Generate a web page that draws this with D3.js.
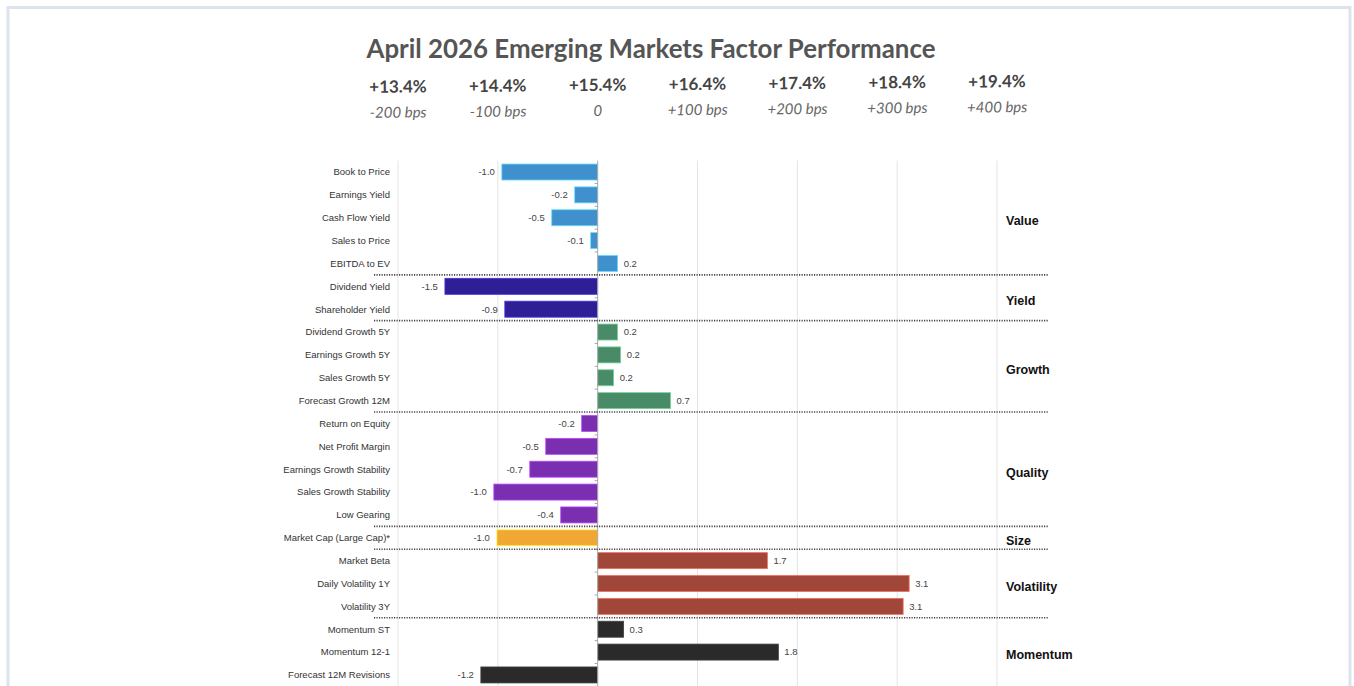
<!DOCTYPE html>
<html>
<head>
<meta charset="utf-8">
<script src="https://cdn.jsdelivr.net/npm/d3@7"></script>
<style>
  body { margin: 0; background: #fff; }
  svg { display: block; }
</style>
</head>
<body>
<svg id="chart"></svg>
<script>
// factor rows, top to bottom
const factors = [
  "Book to Price", "Earnings Yield", "Cash Flow Yield", "Sales to Price", "EBITDA to EV",
  "Dividend Yield", "Shareholder Yield",
  "Dividend Growth 5Y", "Earnings Growth 5Y", "Sales Growth 5Y", "Forecast Growth 12M",
  "Return on Equity", "Net Profit Margin", "Earnings Growth Stability", "Sales Growth Stability", "Low Gearing",
  "Market Cap (Large Cap)*",
  "Market Beta", "Daily Volatility 1Y", "Volatility 3Y",
  "Momentum ST", "Momentum 12-1", "Forecast 12M Revisions"
];
const values = [
  -0.96, -0.23, -0.46, -0.07, 0.20,
  -1.53, -0.93,
  0.20, 0.23, 0.16, 0.73,
  -0.16, -0.52, -0.68, -1.04, -0.37,
  -1.01,
  1.70, 3.12, 3.06,
  0.26, 1.81, -1.17
];
const factorGroup = [
  "Value", "Value", "Value", "Value", "Value",
  "Yield", "Yield",
  "Growth", "Growth", "Growth", "Growth",
  "Quality", "Quality", "Quality", "Quality", "Quality",
  "Size",
  "Volatility", "Volatility", "Volatility",
  "Momentum", "Momentum", "Momentum"
];
const groups = ["Value", "Yield", "Growth", "Quality", "Size", "Volatility", "Momentum"];
const groupColors = ["#3f90cd", "#2e1f97", "#4a8b67", "#7a2fb0", "#f0a733", "#a0473a", "#2a2a2a"];

// header ticks
const tickValues = [-2, -1, 0, 1, 2, 3, 4];
const returnLabels = ["+13.4%", "+14.4%", "+15.4%", "+16.4%", "+17.4%", "+18.4%", "+19.4%"];
const bpsLabels = ["-200 bps", "-100 bps", "0", "+100 bps", "+200 bps", "+300 bps", "+400 bps"];

const title = "April 2026 Emerging Markets Factor Performance";

const width = 1354, height = 686;
const svg = d3.select("#chart").attr("width", width).attr("height", height);

// frame
svg.append("rect")
  .attr("x", 8).attr("y", 7.5)
  .attr("width", 1342).attr("height", 720)
  .attr("fill", "#fff")
  .attr("stroke", "#dde3ec")
  .attr("stroke-width", 3);

const x = d3.scaleLinear().domain([-2, 4]).range([398, 997]);
const y = d3.scaleBand().domain(factors).range([160.6, 160.6 + factors.length * 22.86]).paddingInner(0.3).paddingOuter(0.15);
const color = d3.scaleOrdinal().domain(groups).range(groupColors);

// title
svg.append("text")
  .attr("x", 651).attr("y", 58)
  .attr("text-anchor", "middle")
  .attr("font-family", "Lato, 'Open Sans', sans-serif")
  .attr("font-weight", "bold")
  .attr("font-size", 26)
  .attr("fill", "#555")
  .attr("textLength", 569)
  .attr("lengthAdjust", "spacingAndGlyphs")
  .text(title);

// header rows
const header = svg.append("g").attr("transform", "rotate(-0.5, 697, 90)");
header.selectAll(".ret")
  .data(tickValues)
  .join("text")
  .attr("class", "ret")
  .attr("x", d => x(d))
  .attr("y", 90)
  .attr("text-anchor", "middle")
  .attr("font-family", "Lato, 'Open Sans', sans-serif")
  .attr("font-weight", "bold")
  .attr("font-size", 17)
  .attr("fill", "#444")
  .text((d, i) => returnLabels[i]);

header.selectAll(".bps")
  .data(tickValues)
  .join("text")
  .attr("class", "bps")
  .attr("x", d => x(d))
  .attr("y", 115)
  .attr("text-anchor", "middle")
  .attr("font-family", "Lato, 'Open Sans', sans-serif")
  .attr("font-style", "italic")
  .attr("font-size", 15)
  .attr("fill", "#666")
  .text((d, i) => bpsLabels[i]);

// gridlines
const plotTop = y.range()[0];
svg.append("g")
  .selectAll("line")
  .data(tickValues.filter(d => d !== 0))
  .join("line")
  .attr("x1", d => x(d)).attr("x2", d => x(d))
  .attr("y1", plotTop).attr("y2", height)
  .attr("stroke", "#e4e4e4")
  .attr("stroke-width", 1);

// category labels
svg.append("g")
  .selectAll("text")
  .data(factors)
  .join("text")
  .attr("x", 390)
  .attr("y", d => y(d) + y.bandwidth() / 2)
  .attr("dy", "0.35em")
  .attr("text-anchor", "end")
  .attr("font-family", "'Liberation Sans', Arial, sans-serif")
  .attr("font-size", 9.5)
  .attr("fill", "#333")
  .text(d => d);

// bars
svg.append("g")
  .selectAll("rect")
  .data(factors)
  .join("rect")
  .attr("x", (d, i) => x(Math.min(0, values[i])))
  .attr("y", d => y(d))
  .attr("width", (d, i) => Math.abs(x(values[i]) - x(0)))
  .attr("height", y.bandwidth())
  .attr("fill", (d, i) => color(factorGroup[i]))
  .attr("stroke", (d, i) => d3.color(color(factorGroup[i])).brighter(1.2))
  .attr("stroke-width", 0.8);

// value labels
svg.append("g")
  .selectAll("text")
  .data(factors)
  .join("text")
  .attr("x", (d, i) => values[i] < 0 ? x(values[i]) - 7 : x(values[i]) + 6)
  .attr("y", d => y(d) + y.bandwidth() / 2)
  .attr("dy", "0.35em")
  .attr("text-anchor", (d, i) => values[i] < 0 ? "end" : "start")
  .attr("font-family", "'Liberation Sans', Arial, sans-serif")
  .attr("font-size", 9.5)
  .attr("fill", "#444")
  .text((d, i) => values[i].toFixed(1));

// zero axis with small ticks at band boundaries
const step = y.step();
svg.append("line")
  .attr("x1", x(0)).attr("x2", x(0))
  .attr("y1", plotTop).attr("y2", height)
  .attr("stroke", "#a8a8a8")
  .attr("stroke-width", 1);
svg.append("g")
  .selectAll("line")
  .data(factors)
  .join("line")
  .attr("x1", x(0) - 3).attr("x2", x(0))
  .attr("y1", (d, i) => plotTop + (i + 1) * step)
  .attr("y2", (d, i) => plotTop + (i + 1) * step)
  .attr("stroke", "#a8a8a8");

// group separators and labels
const groupInfo = groups.map(g => {
  const idx = factors.map((f, i) => i).filter(i => factorGroup[i] === g);
  return { name: g, first: idx[0], last: idx[idx.length - 1] };
});

svg.append("g")
  .selectAll("line")
  .data(groupInfo.slice(0, -1))
  .join("line")
  .attr("x1", 374).attr("x2", 1048)
  .attr("y1", d => plotTop + (d.last + 1) * step)
  .attr("y2", d => plotTop + (d.last + 1) * step)
  .attr("stroke", "#444")
  .attr("stroke-width", 1.6)
  .attr("stroke-dasharray", "1.2,1.3");

svg.append("g")
  .selectAll("text")
  .data(groupInfo)
  .join("text")
  .attr("x", 1006)
  .attr("y", d => (y(factors[d.first]) + y(factors[d.last]) + y.bandwidth()) / 2 + 3)
  .attr("dy", "0.35em")
  .attr("font-family", "'Liberation Sans', Arial, sans-serif")
  .attr("font-weight", "bold")
  .attr("font-size", 12.5)
  .attr("fill", "#111")
  .text(d => d.name);
</script>
</body>
</html>
